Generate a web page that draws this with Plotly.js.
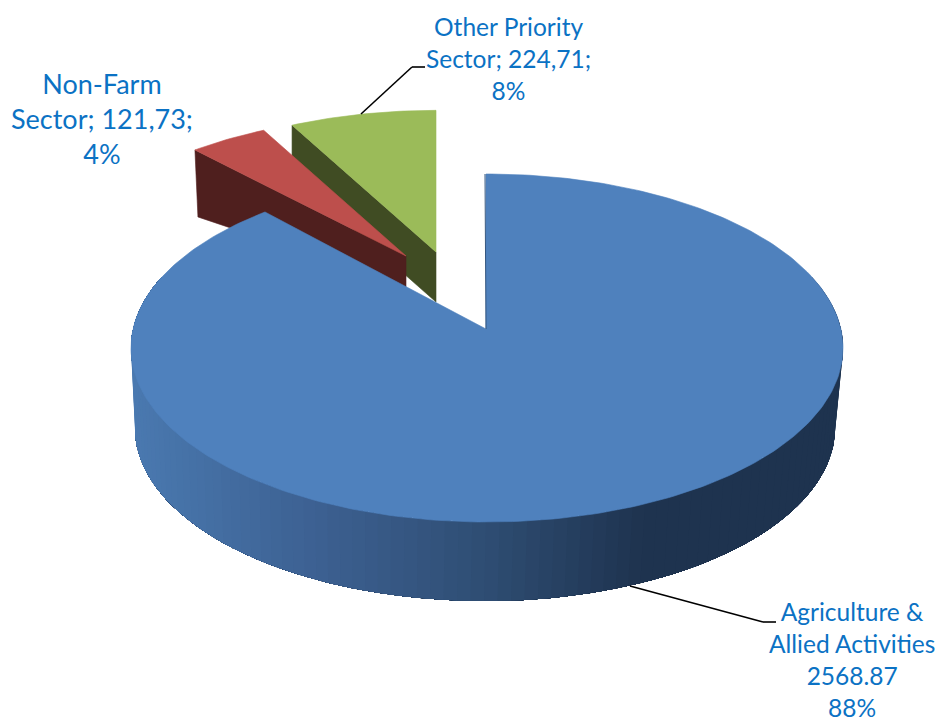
<!DOCTYPE html>
<html><head><meta charset="utf-8">
<script src="https://cdn.plot.ly/plotly-3.0.1.min.js"></script>
<style>html,body{margin:0;padding:0;background:#fff}#c{width:940px;height:723px}</style>
</head><body><div id="c"></div>
<script>
const categories = ['Agriculture & Allied Activities','Non-Farm Sector','Other Priority Sector'];
const values = [2568.87,121.73,224.71];
const valueLabels = ['2568.87','121,73','224,71'];
const percentLabels = ['88%','4%','8%'];
const topColors = ['#4f81bd','#bd4f4c','#9bbb59'];
const wallColors = ['#1e334f','#4f1f1e','#404c23'];

const total = values.reduce((a,b)=>a+b,0);
const k = 0.49, RX = 356, RY = 174, OX = 1, OY = 19;
// Ray from the apex at pie angle th, to the rim of the tilted disc.
function rim(thDeg){
  const th = thDeg*Math.PI/180, dx = Math.sin(th), dy = -k*Math.cos(th);
  const a = dx*dx/(RX*RX)+dy*dy/(RY*RY);
  const b = -2*(dx*OX/(RX*RX)+dy*OY/(RY*RY));
  const c = OX*OX/(RX*RX)+OY*OY/(RY*RY)-1;
  const t = (-b+Math.sqrt(b*b-4*a*c))/(2*a);
  return [dx*t,dy*t];
}
// Start angles clockwise from 12 o'clock
const starts=[]; let acc=0;
values.forEach(v=>{starts.push(acc); acc+=v/total*360;});
const sweeps = values.map(v=>v/total*360);

const poly=(pts,color,name,lineW)=>({type:'scatter',mode:'lines',x:pts.map(p=>p[0]).concat(pts[0][0]),y:pts.map(p=>p[1]).concat(pts[0][1]),
  fill:'toself',fillcolor:color,line:{color:color,width:lineW===undefined?0.6:lineW},hoverinfo:'skip',showlegend:false,name:name});

function wedge(i,ax,ay,sx,sy){
  const pts=[[ax,ay]];
  const n=Math.max(8,Math.round(sweeps[i]));
  for(let j=0;j<=n;j++){const r=rim(starts[i]+sweeps[i]*j/n);pts.push([ax+r[0]*sx,ay+r[1]*sy]);}
  return pts;
}
const traces=[];
// Other Priority Sector (slice 2)
const g=wedge(2,436,252,0.966,0.914);
const gRim=g[1];
traces.push(poly([[436,252],gRim,[gRim[0],gRim[1]+50],[436,302]],wallColors[2],categories[2]+' wall'));
traces.push(poly(g,topColors[2],categories[2]));
// Non-Farm Sector (slice 1)
const r=wedge(1,406,256,0.955,0.906);
const rRim=r[1];
traces.push(poly([[406,256],rRim,[rRim[0]+3,rRim[1]+67],[406,287]],wallColors[1],categories[1]+' wall'));
traces.push(poly(r,topColors[1],categories[1]));
// Agriculture (slice 0): curved side, shaded, then top
const AX=486, AY=329, CX=AX+OX, CY=AY+OY, BCX=485, BCY=428, BRX=350, BRY=173;
const stops=[[135,[74,121,176]],[320,[60,96,145]],[480,[47,78,116]],[640,[30,51,79]],[950,[30,51,79]]];
function shade(x){
  for(let i=0;i<stops.length-1;i++){const a=stops[i],b=stops[i+1];
    if(x<=b[0]){const f=Math.max(0,(x-a[0])/(b[0]-a[0]));
      return 'rgb('+a[1].map((c,j)=>Math.round(c+(b[1][j]-c)*f)).join(',')+')';}}
  return 'rgb(30,51,79)';
}
function sidePoint(th){
  const p=rim(th), top=[AX+p[0],AY+p[1]];
  const phi=Math.atan2((top[1]-CY)/RY,(top[0]-CX)/RX);
  return {top,bot:[BCX+BRX*Math.cos(phi),BCY+BRY*Math.sin(phi)]};
}
// Drawn right to left over a solid dark base; each band runs under all later ones, so no seams.
const thEnd=288, thStart=72, thStep=2;
const allSide=[];
for(let th=thStart;th<=thEnd;th+=thStep) allSide.push(sidePoint(th));
const chain=(from)=>{const s=allSide.slice(from);return s.map(p=>p.top).concat(s.map(p=>p.bot).reverse());};
for(let i=0;i<allSide.length-1;i++){
  const c=shade((allSide[i].bot[0]+allSide[i+1].bot[0])/2);
  traces.push(poly(chain(i),c,categories[0]+' side',0));
}
traces.push(poly(wedge(0,AX,AY,1,1),topColors[0],categories[0]));

const lab={color:'#0b72c4',family:'Lato, Carlito, sans-serif'};
const note=(x,y,text,size)=>({x,y,xref:'x',yref:'y',text,showarrow:false,xanchor:'center',yanchor:'middle',align:'center',font:Object.assign({size},lab)});
const annotations=[
 note(852,659,'Agriculture &<br>Allied Activities<br>'+valueLabels[0]+'<br>'+percentLabels[0],24.5),
 note(102,118.5,'Non-Farm<br>Sector; '+valueLabels[1]+';<br>'+percentLabels[1],27),
 note(508,58,'Other Priority<br>Sector; '+valueLabels[2]+';<br>'+percentLabels[2],24.5)
];
const lineStyle={color:'#000',width:1.6};
const seg=(x0,y0,x1,y1)=>({type:'line',xref:'x',yref:'y',x0,y0,x1,y1,line:lineStyle,layer:'above'});
const shapes=[
 seg(630,586,763,622),seg(763,622,776,622),
 seg(361,114,412,67),seg(412,67,425,67),
 {type:'line',xref:'x',yref:'y',x0:485,y0:174,x1:486,y1:329,line:{color:'#34567f',width:1},layer:'above'}
];
Plotly.newPlot('c',traces,{
  width:940,height:723,margin:{l:0,r:0,t:0,b:0},paper_bgcolor:'#fff',plot_bgcolor:'#fff',showlegend:false,
  xaxis:{range:[0,940],visible:false,fixedrange:true},yaxis:{range:[723,0],visible:false,fixedrange:true},
  annotations,shapes
},{staticPlot:true,displayModeBar:false});
</script></body></html>
